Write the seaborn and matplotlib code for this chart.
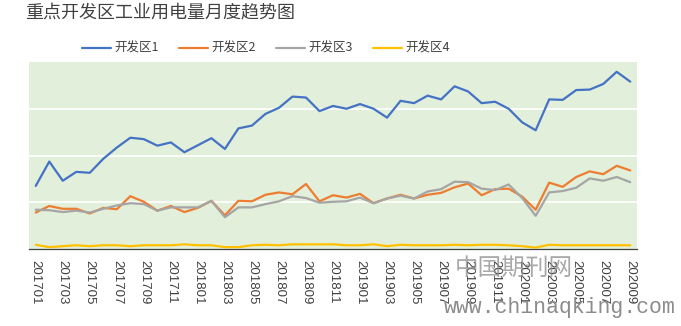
import matplotlib
matplotlib.use("Agg")
import matplotlib.pyplot as plt
from matplotlib.ticker import FixedLocator, NullFormatter
import seaborn as sns
import pandas as pd

# Monthly periods, 201701 .. 202009
months = [f"{y}{m:02d}" for y in range(2017, 2021) for m in range(1, 13)][:45]

zone1 = [135, 187, 146, 165, 163, 193, 217, 238, 235, 221, 228, 207, 222, 237, 214,
         258, 264, 289, 302, 326, 324, 295, 306, 300, 310, 300, 281, 317, 312, 328,
         320, 348, 337, 312, 315, 300, 271, 254, 320, 319, 340, 341, 353, 379, 358]
zone2 = [78, 92, 86, 86, 76, 88, 85, 113, 101, 82, 92, 79, 88, 103, 72,
         103, 102, 116, 121, 117, 139, 102, 115, 110, 118, 98, 108, 116, 108, 116,
         120, 132, 140, 115, 128, 129, 112, 84, 142, 133, 154, 166, 160, 178, 168]
zone3 = [84, 83, 79, 82, 78, 86, 93, 98, 96, 82, 89, 89, 89, 103, 68,
         89, 89, 96, 102, 113, 109, 99, 101, 102, 110, 98, 108, 114, 108, 123,
         128, 144, 143, 129, 126, 138, 109, 71, 121, 124, 131, 151, 146, 154, 143]
zone4 = [9, 4, 6, 8, 6, 8, 8, 6, 8, 8, 8, 10, 8, 8, 4,
         4, 8, 9, 8, 10, 10, 10, 10, 8, 8, 10, 6, 9, 8, 8,
         8, 9, 8, 9, 9, 8, 6, 3, 9, 8, 8, 8, 8, 8, 8]

names = ["开发区1", "开发区2", "开发区3", "开发区4"]
palette = ["#4472C4", "#ED7D31", "#A5A5A5", "#FFC000"]

df = pd.DataFrame({
    "idx": list(range(len(months))) * 4,
    "value": zone1 + zone2 + zone3 + zone4,
    "zone": sum([[n] * len(months) for n in names], []),
})

sns.set_style("white")
plt.rcParams["font.family"] = ["Noto Sans CJK SC", "DejaVu Sans"]

fig = plt.figure(figsize=(6.81, 3.26), dpi=100)
ax = fig.add_axes([29 / 681, 1 - 249 / 326, 608 / 681, 187 / 326])
ax.set_facecolor("#E2EFDA")

sns.lineplot(data=df, x="idx", y="value", hue="zone", hue_order=names,
             palette=palette, linewidth=1.6, ax=ax, legend=False, zorder=3)

ax.set_xlim(-0.5, len(months) - 0.5)
ax.set_ylim(0, 400)
ax.set_yticks([100, 200, 300])
ax.set_yticklabels([])
ax.tick_params(axis="y", length=0)
ax.grid(axis="y", color="white", linewidth=1.2, zorder=1)
ax.set_axisbelow(True)

ax.set_xticks(list(range(0, len(months), 2)))
ax.set_xticklabels(months[::2], rotation=-90, fontsize=9.5,
                   family=["Liberation Sans", "DejaVu Sans"], color="#404040")
ax.tick_params(axis="x", which="major", length=0, pad=8)
ax.xaxis.set_minor_locator(FixedLocator([i - 0.5 for i in range(len(months) + 1)]))
ax.xaxis.set_minor_formatter(NullFormatter())
ax.tick_params(axis="x", which="minor", length=4, width=0.8, color="#595959")
ax.set_xlabel("")
ax.set_ylabel("")

for s in ["top", "right", "left"]:
    ax.spines[s].set_visible(False)
ax.spines["bottom"].set_color("#404040")
ax.spines["bottom"].set_linewidth(0.9)

handles = [plt.Line2D([], [], color=c, linewidth=1.6) for c in palette]
fig.legend(handles, names, loc="center", bbox_to_anchor=(266 / 681, 1 - 48.5 / 326),
           ncol=4, frameon=False, fontsize=9, handlelength=2.3,
           handletextpad=0.3, columnspacing=1.6, labelcolor="#404040")

fig.text(25 / 681, 1 - 13 / 326, "重点开发区工业用电量月度趋势图", fontsize=13,
         color="#404040", va="center", ha="left")

# site watermark
fig.text(455 / 681, 1 - 268 / 326, "中国期刊网", fontsize=17, color="#8c8c8c",
         alpha=0.75, va="center", ha="left")
fig.text(444 / 681, 1 - 307 / 326, "www.chinaqking.com", fontsize=15.5,
         color="#8c8c8c", family=["Liberation Mono", "DejaVu Sans Mono"],
         va="center", ha="left")

fig.savefig("out.png", dpi=100)
